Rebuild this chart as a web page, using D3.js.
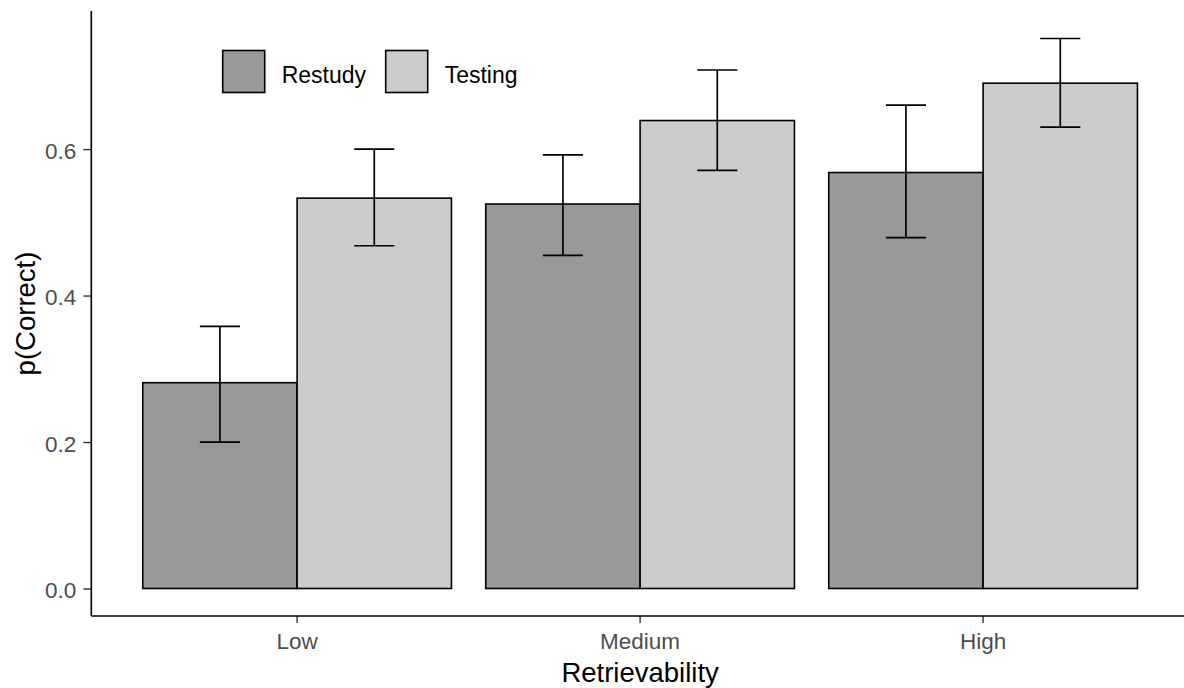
<!DOCTYPE html>
<html>
<head>
<meta charset="utf-8">
<script src="https://cdn.jsdelivr.net/npm/d3@7"></script>
<style>
  body { margin: 0; background: #fff; }
  text { font-family: "Liberation Sans", Arial, sans-serif; }
</style>
</head>
<body>
<svg id="chart"></svg>
<script>
// values
const levels = ["Low", "Medium", "High"];
const conditions = ["Restudy", "Testing"];
const restudy = [0.281, 0.525, 0.568];
const restudyLow = [0.200, 0.455, 0.479];
const restudyHigh = [0.358, 0.592, 0.660];
const testing = [0.533, 0.639, 0.690];
const testingLow = [0.468, 0.571, 0.630];
const testingHigh = [0.600, 0.708, 0.751];
const yTicks = [0, 0.2, 0.4, 0.6];
const fills = ["#999999", "#cccccc"];

const width = 1184, height = 688;
const panel = {left: 91.3, right: 1188.9, top: 11, bottom: 616};

const rows = [];
levels.forEach((lvl, i) => {
  rows.push({level: lvl, cond: "Restudy", value: restudy[i], lo: restudyLow[i], hi: restudyHigh[i]});
  rows.push({level: lvl, cond: "Testing", value: testing[i], lo: testingLow[i], hi: testingHigh[i]});
});

const svg = d3.select("#chart")
    .attr("width", width)
    .attr("height", height);

// ggplot style 5% expansion on y
const yMax = d3.max(rows, d => d.hi);
const pad = yMax * 0.05;
const y = d3.scaleLinear()
    .domain([-pad, yMax + pad])
    .range([panel.bottom, panel.top]);

const x = d3.scaleBand()
    .domain(levels)
    .range([panel.left, panel.right])
    .paddingInner(0.1)
    .paddingOuter(0.15);

const xSub = d3.scaleBand()
    .domain(conditions)
    .range([0, x.bandwidth()]);

const color = d3.scaleOrdinal().domain(conditions).range(fills);

// bars
svg.append("g")
    .selectAll("rect")
    .data(rows)
    .enter()
    .append("rect")
    .attr("x", d => x(d.level) + xSub(d.cond))
    .attr("y", d => y(d.value))
    .attr("width", xSub.bandwidth())
    .attr("height", d => y(0) - y(d.value))
    .attr("fill", d => color(d.cond))
    .attr("stroke", "#000")
    .attr("stroke-width", 1.6);

// error bars
const capW = xSub.bandwidth() * 0.26;
const err = svg.append("g")
    .attr("stroke", "#000")
    .attr("stroke-width", 1.7);
rows.forEach(d => {
  const cx = x(d.level) + xSub(d.cond) + xSub.bandwidth() / 2;
  err.append("line").attr("x1", cx).attr("x2", cx).attr("y1", y(d.lo)).attr("y2", y(d.hi));
  err.append("line").attr("x1", cx - capW / 2).attr("x2", cx + capW / 2).attr("y1", y(d.lo)).attr("y2", y(d.lo));
  err.append("line").attr("x1", cx - capW / 2).attr("x2", cx + capW / 2).attr("y1", y(d.hi)).attr("y2", y(d.hi));
});

// axes
const yAxis = svg.append("g")
    .attr("transform", "translate(" + panel.left + ",0)")
    .call(d3.axisLeft(y).tickValues(yTicks).tickFormat(d3.format(".1f")).tickSize(8).tickPadding(7));
yAxis.select(".domain").remove();
yAxis.selectAll(".tick line").attr("stroke", "#333").attr("stroke-width", 1.4);
yAxis.selectAll(".tick text")
    .attr("fill", "#4d4d4d")
    .style("font-size", "22.5px")
    .attr("dy", "0.4em");

const xAxis = svg.append("g")
    .attr("transform", "translate(0," + panel.bottom + ")")
    .call(d3.axisBottom(x).tickSize(7).tickPadding(9));
xAxis.select(".domain").remove();
xAxis.selectAll(".tick line").attr("stroke", "#333").attr("stroke-width", 1.4);
xAxis.selectAll(".tick text")
    .attr("fill", "#4d4d4d")
    .style("font-size", "22.5px")
    .attr("dy", "0.74em");

// axis lines (classic theme)
svg.append("line")
    .attr("x1", panel.left).attr("x2", panel.left)
    .attr("y1", panel.top).attr("y2", panel.bottom)
    .attr("stroke", "#000").attr("stroke-width", 1.6);
svg.append("line")
    .attr("x1", panel.left).attr("x2", width)
    .attr("y1", panel.bottom).attr("y2", panel.bottom)
    .attr("stroke", "#000").attr("stroke-width", 1.6);

// axis titles
svg.append("text")
    .attr("x", (panel.left + panel.right) / 2)
    .attr("y", 682)
    .attr("text-anchor", "middle")
    .style("font-size", "27.5px")
    .text("Retrievability");

svg.append("text")
    .attr("transform", "translate(35," + ((panel.top + panel.bottom) / 2) + ") rotate(-90)")
    .attr("text-anchor", "middle")
    .style("font-size", "27.5px")
    .text("p(Correct)");

// legend
const legendX = [222.7, 385.7];
const legend = svg.append("g");
conditions.forEach((c, i) => {
  legend.append("rect")
      .attr("x", legendX[i]).attr("y", 50.5)
      .attr("width", 42).attr("height", 42)
      .attr("fill", color(c))
      .attr("stroke", "#000")
      .attr("stroke-width", 1.6);
  legend.append("text")
      .attr("x", legendX[i] + 59)
      .attr("y", 83)
      .style("font-size", "23px")
      .text(c);
});
</script>
</body>
</html>
